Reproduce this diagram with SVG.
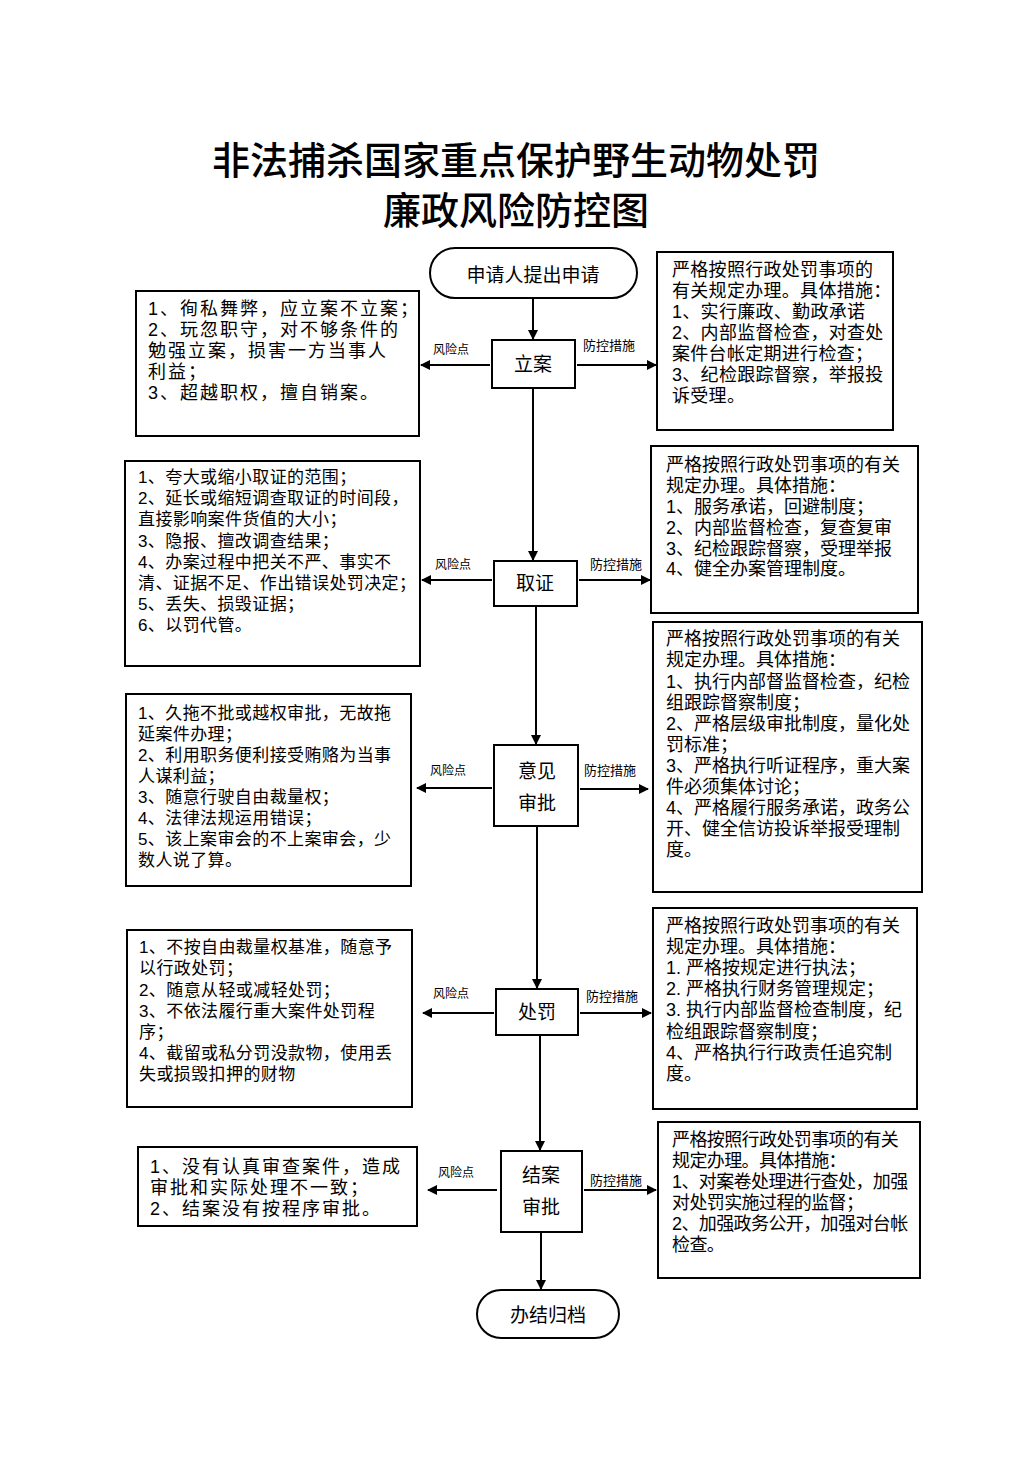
<svg xmlns="http://www.w3.org/2000/svg" width="1033" height="1461" viewBox="0 0 1033 1461">
<defs>
<marker id="ah" viewBox="0 0 10 10" refX="9" refY="5" markerWidth="5" markerHeight="5" orient="auto" markerUnits="strokeWidth">
<path d="M0,0 L10,5 L0,10 z" fill="#000"/>
</marker>
<style>
text{font-family:"Liberation Sans","Noto Sans CJK SC",sans-serif;fill:#000;dominant-baseline:central}
.title{font-family:"Noto Sans CJK SC",sans-serif;font-size:38px;font-weight:500;text-anchor:middle}
.box{fill:#fff;stroke:#000;stroke-width:2}
.node{font-size:19px;text-anchor:middle}
.lbl{font-size:12px}
.lbl2{font-size:13px}
.t20,.t19,.t18,.t17,.t18n{transform:translateY(1.5px)}
.t20{font-size:18px;letter-spacing:2px}
.t19{font-size:18px;letter-spacing:0.3px}
.t18{font-size:18px;letter-spacing:0px}
.t18n{font-size:18px;letter-spacing:-0.6px}
.t17{font-size:17px;letter-spacing:0.4px}
.conn line{stroke:#000;stroke-width:2;marker-end:url(#ah)}
</style>
</defs>
<rect width="1033" height="1461" fill="#fff"/>
<g id="title">
<text class="title" x="516" y="157">非法捕杀国家重点保护野生动物处罚</text>
<text class="title" x="516" y="207">廉政风险防控图</text>
</g>

<g class="conn" id="connectors">
<line x1="533" y1="298" x2="533" y2="339"/>
<line x1="533" y1="388" x2="533" y2="560"/>
<line x1="536" y1="606" x2="536" y2="744"/>
<line x1="537" y1="826" x2="537" y2="988"/>
<line x1="540" y1="1035" x2="540" y2="1150"/>
<line x1="541" y1="1232" x2="541" y2="1289"/>
<line x1="490" y1="365" x2="421" y2="365"/>
<line x1="577" y1="365" x2="656" y2="365"/>
<line x1="492" y1="580" x2="422" y2="580"/>
<line x1="579" y1="580" x2="650" y2="580"/>
<line x1="492" y1="788" x2="417" y2="788"/>
<line x1="580" y1="789" x2="648" y2="789"/>
<line x1="494" y1="1013" x2="423" y2="1013"/>
<line x1="580" y1="1013" x2="651" y2="1013"/>
<line x1="497" y1="1190" x2="428" y2="1190"/>
<line x1="584" y1="1190" x2="656" y2="1190"/>
</g>

<g id="labels">
<text class="lbl" x="433" y="350">风险点</text>
<text class="lbl2" x="583" y="345">防控措施</text>
<text class="lbl" x="435" y="565">风险点</text>
<text class="lbl2" x="590" y="564">防控措施</text>
<text class="lbl" x="430" y="771">风险点</text>
<text class="lbl2" x="584" y="770">防控措施</text>
<text class="lbl" x="433" y="994">风险点</text>
<text class="lbl2" x="586" y="996">防控措施</text>
<text class="lbl" x="438" y="1173">风险点</text>
<text class="lbl2" x="590" y="1180">防控措施</text>
</g>

<g id="start">
<rect class="box" x="430" y="248" width="207" height="50" rx="25"/>
<text class="node" x="533" y="275">申请人提出申请</text>
</g>

<g id="lian">
<rect class="box" x="492" y="340" width="83" height="48"/>
<text class="node" x="533" y="364">立案</text>
</g>
<g id="risk1">
<rect class="box" x="136" y="291" width="283" height="145"/>
<text class="t20" x="148" y="307">1、徇私舞弊，应立案不立案；</text>
<text class="t20" x="148" y="328">2、玩忽职守，对不够条件的</text>
<text class="t20" x="148" y="349">勉强立案，损害一方当事人</text>
<text class="t20" x="148" y="370">利益；</text>
<text class="t20" x="148" y="391">3、超越职权，擅自销案。</text>
</g>
<g id="ctrl1">
<rect class="box" x="657" y="252" width="236" height="178"/>
<text class="t19" x="672" y="268">严格按照行政处罚事项的</text>
<text class="t19" x="672" y="289">有关规定办理。具体措施：</text>
<text class="t19" x="672" y="310">1、实行廉政、勤政承诺</text>
<text class="t19" x="672" y="331">2、内部监督检查，对查处</text>
<text class="t19" x="672" y="352">案件台帐定期进行检查；</text>
<text class="t19" x="672" y="373">3、纪检跟踪督察，举报投</text>
<text class="t19" x="672" y="394">诉受理。</text>
</g>

<g id="quzheng">
<rect class="box" x="494" y="561" width="83" height="45"/>
<text class="node" x="535" y="583">取证</text>
</g>
<g id="risk2">
<rect class="box" x="125" y="461" width="295" height="205"/>
<text class="t17" x="138" y="476">1、夸大或缩小取证的范围；</text>
<text class="t17" x="138" y="497">2、延长或缩短调查取证的时间段，</text>
<text class="t17" x="138" y="518">直接影响案件货值的大小；</text>
<text class="t17" x="138" y="540">3、隐报、擅改调查结果；</text>
<text class="t17" x="138" y="561">4、办案过程中把关不严、事实不</text>
<text class="t17" x="138" y="582">清、证据不足、作出错误处罚决定；</text>
<text class="t17" x="138" y="603">5、丢失、损毁证据；</text>
<text class="t17" x="138" y="624">6、以罚代管。</text>
</g>
<g id="ctrl2">
<rect class="box" x="651" y="446" width="267" height="167"/>
<text class="t18" x="666" y="463">严格按照行政处罚事项的有关</text>
<text class="t18" x="666" y="484">规定办理。具体措施：</text>
<text class="t18" x="666" y="505">1、服务承诺，回避制度；</text>
<text class="t18" x="666" y="526">2、内部监督检查，复查复审</text>
<text class="t18" x="666" y="547">3、纪检跟踪督察，受理举报</text>
<text class="t18" x="666" y="567">4、健全办案管理制度。</text>
</g>

<g id="yijian">
<rect class="box" x="494" y="745" width="84" height="81"/>
<text class="node" x="537" y="771">意见</text>
<text class="node" x="537" y="803">审批</text>
</g>
<g id="risk3">
<rect class="box" x="126" y="694" width="285" height="192"/>
<text class="t17" x="138" y="712">1、久拖不批或越权审批，无故拖</text>
<text class="t17" x="138" y="733">延案件办理；</text>
<text class="t17" x="138" y="754">2、利用职务便利接受贿赂为当事</text>
<text class="t17" x="138" y="775">人谋利益；</text>
<text class="t17" x="138" y="796">3、随意行驶自由裁量权；</text>
<text class="t17" x="138" y="817">4、法律法规运用错误；</text>
<text class="t17" x="138" y="838">5、该上案审会的不上案审会，少</text>
<text class="t17" x="138" y="859">数人说了算。</text>
</g>
<g id="ctrl3">
<rect class="box" x="653" y="622" width="269" height="270"/>
<text class="t18" x="666" y="637">严格按照行政处罚事项的有关</text>
<text class="t18" x="666" y="658">规定办理。具体措施：</text>
<text class="t18" x="666" y="680">1、执行内部督监督检查，纪检</text>
<text class="t18" x="666" y="701">组跟踪督察制度；</text>
<text class="t18" x="666" y="722">2、严格层级审批制度，量化处</text>
<text class="t18" x="666" y="743">罚标准；</text>
<text class="t18" x="666" y="764">3、严格执行听证程序，重大案</text>
<text class="t18" x="666" y="785">件必须集体讨论；</text>
<text class="t18" x="666" y="806">4、严格履行服务承诺，政务公</text>
<text class="t18" x="666" y="827">开、健全信访投诉举报受理制</text>
<text class="t18" x="666" y="848">度。</text>
</g>

<g id="chufa">
<rect class="box" x="496" y="989" width="82" height="46"/>
<text class="node" x="537" y="1012">处罚</text>
</g>
<g id="risk4">
<rect class="box" x="127" y="930" width="285" height="177"/>
<text class="t17" x="139" y="946">1、不按自由裁量权基准，随意予</text>
<text class="t17" x="139" y="967">以行政处罚；</text>
<text class="t17" x="139" y="989">2、随意从轻或减轻处罚；</text>
<text class="t17" x="139" y="1010">3、不依法履行重大案件处罚程</text>
<text class="t17" x="139" y="1031">序；</text>
<text class="t17" x="139" y="1052">4、截留或私分罚没款物，使用丢</text>
<text class="t17" x="139" y="1073">失或损毁扣押的财物</text>
</g>
<g id="ctrl4">
<rect class="box" x="653" y="908" width="264" height="201"/>
<text class="t18" x="666" y="924">严格按照行政处罚事项的有关</text>
<text class="t18" x="666" y="945">规定办理。具体措施：</text>
<text class="t18" x="666" y="966">1. 严格按规定进行执法；</text>
<text class="t18" x="666" y="987">2. 严格执行财务管理规定；</text>
<text class="t18" x="666" y="1008">3. 执行内部监督检查制度，纪</text>
<text class="t18" x="666" y="1030">检组跟踪督察制度；</text>
<text class="t18" x="666" y="1051">4、严格执行行政责任追究制</text>
<text class="t18" x="666" y="1072">度。</text>
</g>

<g id="jiean">
<rect class="box" x="501" y="1151" width="81" height="81"/>
<text class="node" x="541" y="1175">结案</text>
<text class="node" x="541" y="1207">审批</text>
</g>
<g id="risk5">
<rect class="box" x="138" y="1147" width="279" height="79"/>
<text class="t20" x="150" y="1165">1、没有认真审查案件，造成</text>
<text class="t20" x="150" y="1186">审批和实际处理不一致；</text>
<text class="t20" x="150" y="1207">2、结案没有按程序审批。</text>
</g>
<g id="ctrl5">
<rect class="box" x="658" y="1122" width="262" height="156"/>
<text class="t18n" x="672" y="1138">严格按照行政处罚事项的有关</text>
<text class="t18n" x="672" y="1159">规定办理。具体措施：</text>
<text class="t18n" x="672" y="1180">1、对案卷处理进行查处，加强</text>
<text class="t18n" x="672" y="1201">对处罚实施过程的监督；</text>
<text class="t18n" x="672" y="1222">2、加强政务公开，加强对台帐</text>
<text class="t18n" x="672" y="1243">检查。</text>
</g>

<g id="end">
<rect class="box" x="477" y="1290" width="142" height="48" rx="24"/>
<text class="node" x="548" y="1315">办结归档</text>
</g>
</svg>
